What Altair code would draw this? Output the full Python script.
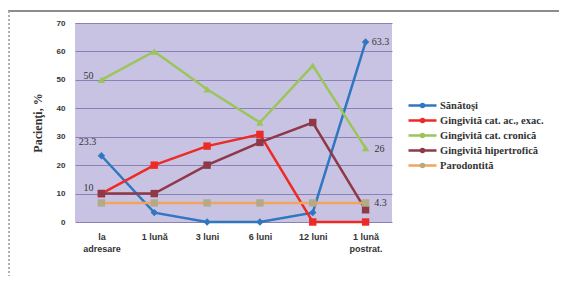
import altair as alt
import pandas as pd

categories = ["la adresare", "1 lună", "3 luni", "6 luni", "12 luni", "1 lună postrat."]
series_names = ["Sănătoşi", "Gingivită cat. ac., exac.", "Gingivită cat. cronică",
                "Gingivită hipertrofică", "Parodontită"]
sanatosi = [23.3, 3.3, 0, 0, 3.3, 63.3]
cat_ac = [10, 20, 26.7, 30.8, 0, 0]
cronica = [50, 60, 46.7, 35, 55, 26]
hipertrofica = [10, 10, 20, 28, 35, 4.3]
parodontita = [6.7, 6.7, 6.7, 6.7, 6.7, 6.7]
y_ticks = [0, 10, 20, 30, 40, 50, 60, 70]

# data labels: (series, category, text)
label_series = ["Sănătoşi", "Gingivită cat. cronică", "Gingivită hipertrofică",
                "Sănătoşi", "Gingivită cat. cronică", "Gingivită hipertrofică"]
label_cats = ["la adresare", "la adresare", "la adresare",
              "1 lună postrat.", "1 lună postrat.", "1 lună postrat."]
label_texts = ["23.3", "50", "10", "63.3", "26", "4.3"]

colors = ["#2f77c0", "#ee2a24", "#9bc55a", "#8e3848", "#f2a35c"]
marker_fill = ["#2f77c0", "#ee2a24", "#9bc55a", "#8e3848", "#b4aa88"]
shapes = ["diamond", "square", "triangle-up", "square", "square"]

rows = []
for name, vals in zip(series_names, [sanatosi, cat_ac, cronica, hipertrofica, parodontita]):
    for c, v in zip(categories, vals):
        rows.append({"serie": name, "cat": c, "val": v})
df = pd.DataFrame(rows)

lab_rows = []
for s, c, t in zip(label_series, label_cats, label_texts):
    v = df[(df.serie == s) & (df.cat == c)].val.iloc[0]
    lab_rows.append({"serie": s, "cat": c, "val": v, "txt": t})
lab = pd.DataFrame(lab_rows)

x_enc = alt.X("cat:N", sort=categories,
              scale=alt.Scale(type="point", padding=0.5, domain=categories),
              axis=alt.Axis(title=None, labelAngle=0, domain=False, ticks=False,
                            labelFont="Liberation Sans", labelFontWeight="bold",
                            labelFontSize=9, labelColor="#333333", labelPadding=10,
                            labelLineHeight=12, labelBaseline="top",
                            labelExpr="datum.label == 'la adresare' ? ['la', 'adresare'] : datum.label == '1 lună postrat.' ? ['1 lună', 'postrat.'] : datum.label"))
y_enc = alt.Y("val:Q", scale=alt.Scale(domain=[0, 70], nice=False),
              axis=alt.Axis(title="Pacienţi, %", values=y_ticks, tickCount=8, domain=False, ticks=False,
                            grid=True, gridColor="#8a82b4", gridWidth=1,
                            labelFont="Liberation Sans", labelFontWeight="bold",
                            labelFontSize=8, labelColor="#333333", labelPadding=10,
                            titleFont="Liberation Serif", titleFontSize=12,
                            titleFontWeight="bold", titleColor="#333333", titlePadding=12))

base = alt.Chart(df)

lines = base.mark_line(strokeWidth=2.5).encode(
    x=x_enc, y=y_enc,
    stroke=alt.Stroke("serie:N", sort=series_names,
                      scale=alt.Scale(domain=series_names, range=colors),
                      legend=alt.Legend(title=None, orient="none", legendX=332, legendY=75,
                                        symbolType="stroke", symbolSize=784,
                                        symbolStrokeWidth=2.5, labelFont="Liberation Serif",
                                        labelFontSize=10.5, labelFontWeight="bold",
                                        labelColor="#333333", rowPadding=0, padding=0,
                                        clipHeight=15, labelOffset=2, labelLimit=200)),
    order=alt.Order("serie:N"),
)

points = base.mark_point(filled=True, opacity=1, size=55).encode(
    x=x_enc, y=y_enc,
    fill=alt.Fill("serie:N", sort=series_names,
                  scale=alt.Scale(domain=series_names, range=marker_fill),
                  legend=alt.Legend(title=None, orient="none", legendX=343, legendY=75,
                                    symbolSize=30, labelFontSize=9, labelExpr="''",
                                    rowPadding=0, padding=0, clipHeight=15)),
    shape=alt.Shape("serie:N", sort=series_names,
                    scale=alt.Scale(domain=series_names, range=shapes), legend=None),
)

offsets = {
    "23.3": (-14, -14), "50": (-13, -4), "10": (-13, -6),
    "63.3": (15, 0), "26": (14, 1), "4.3": (15, -7),
}
texts = []
for t, (dx, dy) in offsets.items():
    texts.append(
        alt.Chart(lab).transform_filter(alt.datum.txt == t).mark_text(
            font="Liberation Serif", fontSize=10, color="#333333", dx=dx, dy=dy
        ).encode(x=x_enc, y=y_enc, text="txt:N")
    )

frame_top = alt.Chart(df).mark_rule(color="#8c8c8c", strokeWidth=1.5).encode(
    x=alt.value(-67), x2=alt.value(484), y=alt.value(-12))
frame_left = alt.Chart(df).mark_rule(color="#b0b0b0", strokeWidth=1, strokeDash=[2, 2]).encode(
    x=alt.value(-66), y=alt.value(-12), y2=alt.value(253))

chart = alt.layer(frame_top, frame_left, lines, points, *texts).resolve_scale(
    stroke="independent", fill="independent"
).properties(
    width=317, height=199,
    autosize=alt.AutoSizeParams(type="none"),
    padding={"left": 67, "top": 15, "right": 167, "bottom": 54},
    background="white",
).configure_view(fill="#c9c3e3", stroke=None)

chart.save("out.html", embed_options={"renderer": "svg", "actions": False})
